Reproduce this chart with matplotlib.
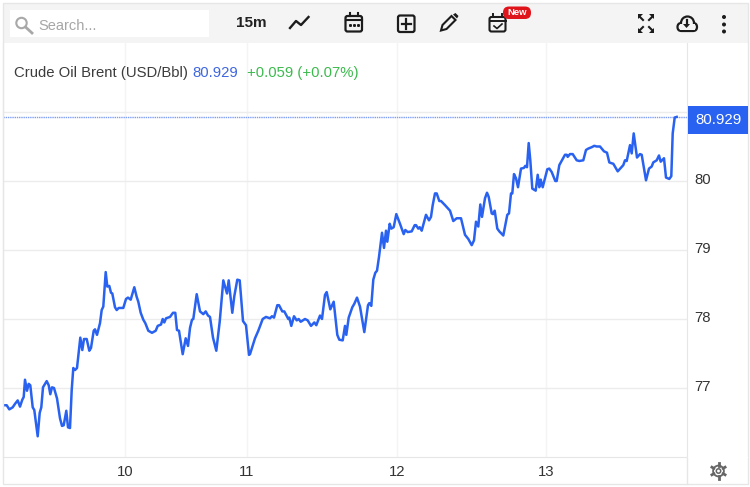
import math

import matplotlib
matplotlib.use('Agg')
import matplotlib.pyplot as plt
from matplotlib.patches import Rectangle, FancyBboxPatch, Circle, Polygon
from matplotlib.transforms import ScaledTranslation

plt.rcParams['font.family'] = ['Liberation Sans', 'DejaVu Sans']

# time runs in roughly ten minute steps from the left edge of the chart
times = [
    1, 3.7, 6.3, 9.7, 12, 14.7, 17, 19.3, 20.7, 22, 24, 25.7, 27.3, 29.7, 31.3, 34.7, 36.7, 38.3, 40, 43.7,
    45.7, 47.3, 49, 51, 54, 57, 59, 60.7, 63.3, 65, 67, 68.7, 70.3, 72, 74, 77.3, 79.3, 81, 83.7, 86.3,
    88, 90.7, 92, 94, 97, 98.7, 100.3, 102.7, 104.3, 106.3, 108, 109.3, 112, 113.7, 115.7, 120.3, 123, 125, 127.7, 131.3,
    133.7, 135.3, 137.7, 140.3, 142.3, 145.3, 149, 152.7, 154.7, 158, 159.7, 161.3, 163, 167, 170, 172.3, 174, 176, 179.7, 182.7,
    185, 187, 189, 190.3, 193.7, 197, 200.3, 202.7, 205, 207, 210, 213.3, 216.7, 220.3, 224, 225.7, 229.3, 231.3, 234.3, 236.7,
    240, 243, 246, 247, 252, 255.3, 259.7, 263, 267, 269, 271, 274.3, 276, 279.3, 281.3, 285.3, 286.3, 288.3, 291, 293.7,
    295.7, 297.7, 302, 304.7, 308, 311.3, 313.3, 317, 319, 322, 323.7, 327.3, 330.7, 334.3, 336.3, 339.7, 342, 343.3, 345.7, 349.3,
    351.3, 354, 357, 361.3, 365, 366.3, 368.3, 370.3, 372.3, 374, 376, 379, 381, 383, 384.3, 386.7, 388.3, 390.7, 393.3, 397,
    400.7, 402.3, 404.7, 408.7, 411.7, 413, 415.3, 416.7, 418.7, 423, 426, 428, 429.7, 432, 433.7, 436.3, 438, 442, 447, 450.3,
    453.7, 458, 462, 465.3, 468.7, 471, 473, 475.3, 477.3, 479, 482, 484, 485.7, 488.7, 490, 491.7, 494.3, 496.3, 500.3, 504.3,
    506, 508, 509.3, 511, 513, 515, 518, 521, 522.3, 524, 525.7, 527.3, 529.3, 532.7, 534.7, 536.3, 537.7, 539.7, 544.3, 546.3,
    548.7, 552.3, 553.7, 556.3, 562, 563.7, 564.7, 567, 569.7, 573.7, 576.3, 580.3, 583, 585.3, 588.7, 591.3, 593.7, 597, 601, 604,
    606.3, 608, 610.3, 614.7, 620.3, 622, 623.7, 627, 628.7, 630.7, 634, 637, 638.7, 643, 646, 648.7, 650.3, 653.7, 656, 657.7,
    661, 663, 666.3, 668.3, 669.7, 671.7, 673.7,
]
prices = [
    76.75, 76.75, 76.69, 76.72, 76.77, 76.82, 76.73, 76.83, 76.87, 77.12, 76.96, 77.06, 77.04, 76.72, 76.68, 76.30, 76.64, 76.72, 77.01, 77.10,
    77.04, 76.91, 77.01, 77.00, 76.85, 76.56, 76.45, 76.46, 76.67, 76.43, 76.42, 76.97, 77.29, 77.26, 77.29, 77.73, 77.55, 77.71, 77.71, 77.54,
    77.58, 77.83, 77.85, 77.77, 77.94, 78.13, 78.18, 78.68, 78.47, 78.48, 78.38, 78.37, 78.17, 78.13, 78.16, 78.16, 78.29, 78.31, 78.28, 78.46,
    78.32, 78.25, 78.09, 77.99, 77.94, 77.83, 77.80, 77.83, 77.90, 77.92, 78.00, 77.95, 78.01, 78.03, 78.09, 78.09, 77.84, 77.83, 77.49, 77.72,
    77.61, 77.87, 77.99, 78.00, 78.36, 78.11, 78.07, 78.11, 78.05, 78.03, 77.73, 77.54, 77.96, 78.56, 78.37, 78.56, 78.09, 78.33, 78.57, 78.56,
    77.97, 77.91, 77.48, 77.49, 77.72, 77.83, 78.00, 78.03, 78.01, 78.04, 78.02, 78.20, 78.20, 78.11, 78.11, 78.00, 78.02, 77.90, 78.04, 77.98,
    78.00, 77.96, 78.00, 77.98, 77.90, 77.95, 77.91, 78.05, 78.00, 78.35, 78.39, 78.14, 78.25, 77.77, 77.70, 77.69, 77.90, 77.77, 78.02, 78.17,
    78.22, 78.31, 78.18, 77.81, 78.20, 78.23, 78.19, 78.57, 78.67, 78.70, 78.90, 79.25, 79.03, 79.28, 79.12, 79.38, 79.31, 79.33, 79.52, 79.38,
    79.23, 79.29, 79.26, 79.27, 79.36, 79.36, 79.31, 79.33, 79.28, 79.51, 79.43, 79.48, 79.65, 79.82, 79.82, 79.71, 79.71, 79.65, 79.57, 79.42,
    79.46, 79.46, 79.22, 79.16, 79.07, 79.14, 79.41, 79.34, 79.66, 79.48, 79.75, 79.83, 79.77, 79.53, 79.52, 79.57, 79.31, 79.27, 79.21, 79.51,
    79.53, 79.82, 79.82, 80.10, 80.04, 79.91, 80.18, 80.19, 80.22, 80.20, 80.55, 80.30, 79.89, 79.86, 80.09, 79.91, 80.02, 79.91, 80.17, 80.18,
    80.13, 80.00, 80.00, 80.23, 80.38, 80.38, 80.35, 80.39, 80.39, 80.30, 80.29, 80.30, 80.45, 80.47, 80.49, 80.51, 80.50, 80.50, 80.43, 80.41,
    80.27, 80.26, 80.25, 80.14, 80.23, 80.30, 80.29, 80.52, 80.40, 80.69, 80.34, 80.39, 80.38, 80.01, 80.18, 80.21, 80.27, 80.30, 80.37, 80.28,
    80.33, 80.05, 80.03, 80.07, 80.69, 80.92, 80.929,
]
day_ticks = [122, 244, 394, 543]
day_labels = ['10', '11', '12', '13']
price_ticks = [77, 78, 79, 80]
last_price = 80.929

BLUE = '#2962f0'
W, H = 750, 487
fig = plt.figure(figsize=(7.5, 4.87), dpi=100, facecolor='white')

# chart area
ax = fig.add_axes([3 / W, 1 - 457 / H, 684 / W, 414 / H])
ax.plot(times, prices, color=BLUE, lw=1.8, solid_joinstyle='round', zorder=3)
ax.axhline(last_price, color='#7f9df2', lw=1, ls=(0, (1, 0.6)), zorder=2)
ax.set_xlim(0, 684)
ax.set_ylim(76, 82)
ax.set_xticks(day_ticks)
ax.set_xticklabels(day_labels)
ax.set_yticks(price_ticks + [81])
ax.set_yticklabels([str(p) for p in price_ticks] + [''])
ax.yaxis.tick_right()
ax.grid(axis='y', color='#ececec', lw=1)
ax.grid(axis='x', color='#f3f4f6', lw=1)
ax.set_axisbelow(True)
ax.tick_params(length=0, labelsize=10.7, labelcolor='#333333')
ax.tick_params(axis='x', pad=6)
ax.tick_params(axis='y', pad=5)
ax.spines['top'].set_visible(False)
for side in ['left', 'right', 'bottom']:
    ax.spines[side].set_color('#e6e6e6')
# price labels sit a little above their grid lines
for lbl in ax.get_yticklabels():
    lbl.set_transform(lbl.get_transform() + ScaledTranslation(0, 1.8 / 72, fig.dpi_scale_trans))

ax.text(11, 81.57, 'Crude Oil Brent (USD/Bbl)', fontsize=10.75, color='#3c3c3c', va='center')
ax.text(189, 81.57, '80.929', fontsize=10.75, color='#3e66e0', va='center')
ax.text(244, 81.57, '+0.059 (+0.07%)', fontsize=10.75, color='#3dba4e', va='center')

# toolbar and frame, drawn in pixel coordinates
ui = fig.add_axes([0, 0, 1, 1], zorder=5)
ui.set_xlim(0, W)
ui.set_ylim(H, 0)
ui.axis('off')
ui.patch.set_alpha(0)

ui.add_patch(Rectangle((3, 3), 745, 40, fc='#f4f4f4', ec='none'))
ui.add_patch(Rectangle((3, 3), 745, 481, fc='none', ec='#e6e6e6', lw=1))
ui.plot([687, 687], [457, 484], color='#e6e6e6', lw=1)
ui.plot([688, 747], [457, 457], color='white', lw=1)
ui.add_patch(Rectangle((10, 10), 199, 27, fc='white', ec='none'))

GREY = '#a8a8a8'
ui.add_patch(Circle((21.5, 23), 5.2, fc='none', ec=GREY, lw=1.5))
ui.plot([25.5, 32], [27, 33], color=GREY, lw=2)
ui.text(38, 26.5, 'Search...', fontsize=10.5, color='#a6a6a6', va='center')
ui.text(236, 23, '15m', fontsize=11, color='#222222', va='center', fontweight='bold')

DARK = '#1c1c1c'
# line icon
ui.plot([290, 296, 301, 308.5], [28, 21, 25, 17], color=DARK, lw=1.7)
# calendar
ui.add_patch(FancyBboxPatch((345.5, 16), 16.5, 15.5, boxstyle='round,pad=0,rounding_size=2', fc='none', ec=DARK, lw=1.6))
ui.plot([345.5, 362], [20, 20], color=DARK, lw=1.5)
ui.plot([349.5, 349.5], [13, 16], color=DARK, lw=1.5)
ui.plot([358, 358], [13, 16], color=DARK, lw=1.5)
ui.plot([350, 353.7, 357.5], [24.5, 24.5, 24.5], ls='none', marker='s', ms=1.1, color=DARK)
# plus box
ui.add_patch(FancyBboxPatch((398, 15.5), 16.5, 16.5, boxstyle='round,pad=0,rounding_size=2', fc='none', ec=DARK, lw=1.6))
ui.plot([401.5, 411], [23.7, 23.7], color=DARK, lw=1.6)
ui.plot([406.2, 406.2], [19, 28.5], color=DARK, lw=1.6)
# pencil
ui.add_patch(Polygon([(441, 30.5), (442.5, 25), (451.5, 16), (455.5, 20), (446.5, 29)], fc='none', ec=DARK, lw=1.5))
ui.add_patch(Polygon([(453, 14.5), (455.5, 13), (458.5, 16), (457, 18.5)], fc=DARK, ec='none'))
# calendar with check
ui.add_patch(FancyBboxPatch((489.5, 17), 16, 14.5, boxstyle='round,pad=0,rounding_size=2', fc='none', ec=DARK, lw=1.5))
ui.plot([489.5, 505.5], [21, 21], color=DARK, lw=1.4)
ui.plot([493, 493], [13.5, 17], color=DARK, lw=1.4)
ui.plot([502, 502], [13.5, 17], color=DARK, lw=1.4)
ui.plot([494, 497, 502], [26, 28.5, 24], color=DARK, lw=1.2)
ui.add_patch(FancyBboxPatch((503, 6.5), 28, 12.5, boxstyle='round,pad=0,rounding_size=6', fc='#e0141b', ec='none'))
ui.text(517, 12.8, 'New', fontsize=6.8, color='white', ha='center', va='center', fontweight='bold')
# fullscreen arrows
for cx, cy, sx, sy in [(640, 17, 1, 1), (652, 17, -1, 1), (640, 30, 1, -1), (652, 30, -1, -1)]:
    ui.add_patch(Polygon([(cx - 2 * sx, cy - 3 * sy), (cx + 3 * sx, cy - 3 * sy), (cx - 2 * sx, cy + 2 * sy)], fc=DARK, ec='none'))
    ui.plot([cx, cx + 3 * sx], [cy, cy + 3 * sy], color=DARK, lw=1.5)
# cloud with download arrow
ui.add_patch(FancyBboxPatch((677.5, 23), 19.5, 8, boxstyle='round,pad=0,rounding_size=4', fc='#f4f4f4', ec=DARK, lw=1.6))
ui.add_patch(Circle((687.5, 23), 6.5, fc='#f4f4f4', ec=DARK, lw=1.6))
ui.add_patch(Rectangle((680, 24), 15, 6, fc='#f4f4f4', ec='none'))
ui.plot([686.5, 686.5], [19.5, 25], color=DARK, lw=1.6)
ui.add_patch(Polygon([(683, 24), (690, 24), (686.5, 28)], fc=DARK, ec='none'))
# menu dots
for y in [17, 24.5, 31.5]:
    ui.add_patch(Circle((724, y), 2, fc=DARK, ec='none'))

# last price tag
ui.add_patch(Rectangle((688, 106), 60, 27.5, fc=BLUE, ec='none'))
ui.text(718, 119.5, '80.929', fontsize=10.8, color='white', ha='center', va='center')

# settings gear
GEAR = '#666666'
ui.add_patch(Circle((718.5, 471), 5.4, fc='none', ec=GEAR, lw=1.3))
ui.add_patch(Circle((718.5, 471), 2.2, fc='none', ec=GEAR, lw=1.1))
for k in range(6):
    a = math.radians(30 + 60 * k)
    ui.plot([718.5 + 5.4 * math.cos(a), 718.5 + 7.6 * math.cos(a)],
            [471 + 5.4 * math.sin(a), 471 + 7.6 * math.sin(a)], color=GEAR, lw=2)

fig.savefig('out.png', dpi=100)
